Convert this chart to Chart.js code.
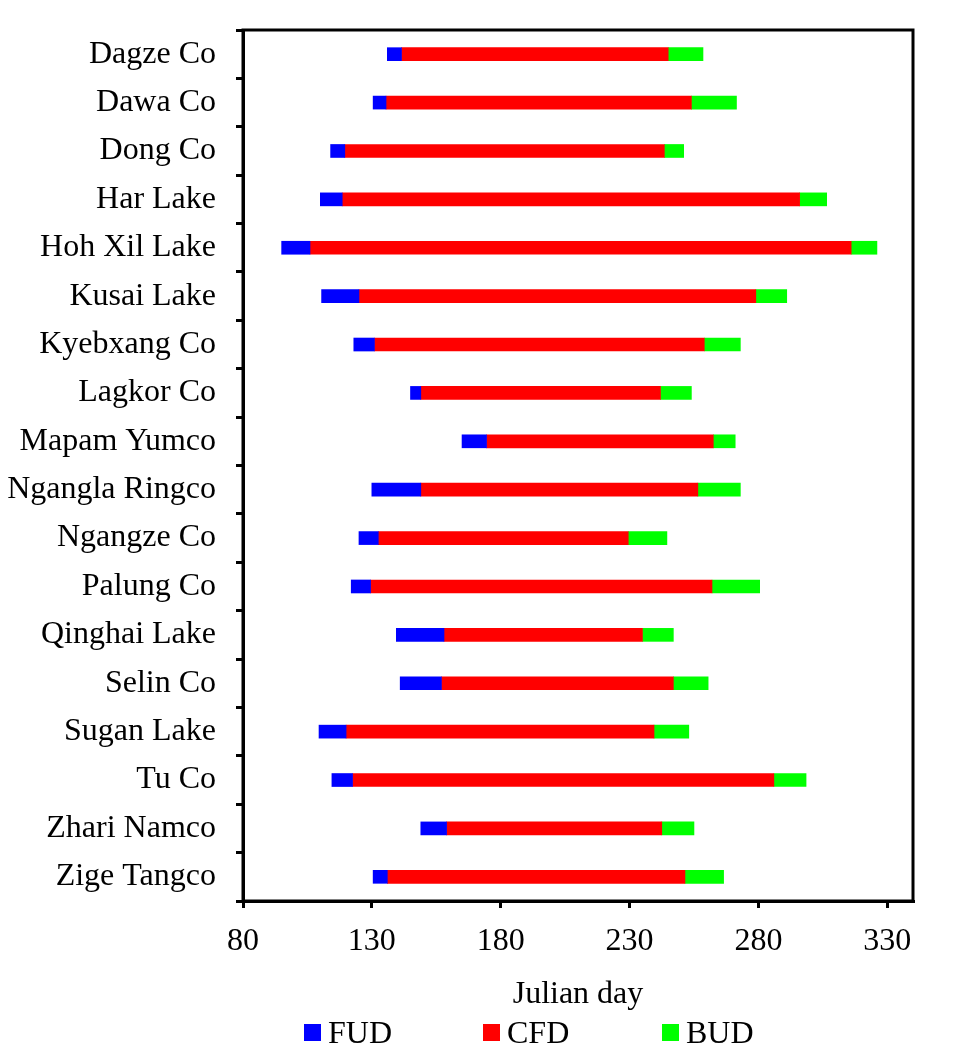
<!DOCTYPE html>
<html>
<head>
<meta charset="utf-8">
<title>Lake ice phenology</title>
<script src="https://cdn.jsdelivr.net/npm/chart.js@4/dist/chart.umd.min.js"></script>
<style>
  html, body { margin: 0; padding: 0; background: #fff; }
  #wrap { position: relative; width: 961px; height: 1052px; }
  #legend { position: absolute; left: 304px; top: 1014px; display: flex; font-family: "Liberation Serif", "Times New Roman", serif; font-size: 32px; color: #000; }
  #legend .item { width: 179px; display: flex; align-items: center; }
  #legend .box { width: 17px; height: 17px; margin-right: 7px; }
</style>
</head>
<body>
<div id="wrap">
  <canvas id="iceChart" width="961" height="1052"></canvas>
  <div id="legend"></div>
</div>
<script>
var lakes = ['Dagze Co', 'Dawa Co', 'Dong Co', 'Har Lake', 'Hoh Xil Lake', 'Kusai Lake', 'Kyebxang Co', 'Lagkor Co', 'Mapam Yumco',
  'Ngangla Ringco', 'Ngangze Co', 'Palung Co', 'Qinghai Lake', 'Selin Co', 'Sugan Lake', 'Tu Co', 'Zhari Namco', 'Zige Tangco'];

// julian days: freeze-up start, complete freeze start, break-up start, break-up end
var fudStart = [136, 130.5, 114, 110, 95, 110.5, 123, 145, 165, 130, 125, 122, 139.5, 141, 109.5, 114.5, 149, 130.5];
var cfdStart = [141.5, 135.5, 119.5, 118.5, 106, 125, 131, 149, 174.5, 149, 132.5, 129.5, 158, 157, 120, 122.5, 159, 136];
var budStart = [245, 254, 243.5, 296, 316, 279, 259, 242, 262.5, 256.5, 229.5, 262, 235, 247, 239.5, 286, 242.5, 251.5];
var budEnd = [258.5, 271.5, 251, 306.5, 326, 291, 273, 254, 271, 273, 244.5, 280.5, 247, 260.5, 253, 298.5, 255, 266.5];

var xTicks = [80, 130, 180, 230, 280, 330];
var seriesNames = ['FUD', 'CFD', 'BUD'];
var seriesColors = ['#0000ff', '#ff0000', '#00ff00'];

(function() {
  var serif = '"Liberation Serif", "Times New Roman", serif';

  function spans(a, b) {
    return a.map(function(v, i) { return [v, b[i]]; });
  }

  var ranges = [spans(fudStart, cfdStart), spans(cfdStart, budStart), spans(budStart, budEnd)];

  var frame = {
    id: 'frame',
    afterDraw: function(chart) {
      var a = chart.chartArea, ctx = chart.ctx;
      ctx.save();
      ctx.strokeStyle = '#000';
      ctx.lineWidth = 3;
      ctx.strokeRect(a.left, a.top, a.right - a.left, a.bottom - a.top);
      ctx.restore();
    }
  };

  new Chart(document.getElementById('iceChart').getContext('2d'), {
    type: 'bar',
    data: {
      labels: lakes,
      datasets: seriesNames.map(function(name, i) {
        return { label: name, data: ranges[i], backgroundColor: seriesColors[i], grouped: false, barThickness: 13, borderSkipped: false };
      })
    },
    options: {
      indexAxis: 'y',
      responsive: false,
      animation: false,
      layout: { padding: { top: 30, right: 48, bottom: 30, left: 0 } },
      plugins: { legend: { display: false }, tooltip: { enabled: false } },
      scales: {
        x: {
          type: 'linear',
          min: 80,
          max: 340,
          afterBuildTicks: function(s) { s.ticks = xTicks.map(function(v) { return { value: v }; }); },
          afterFit: function(s) { s.height = 121; },
          border: { display: true, color: '#000', width: 3 },
          grid: { drawOnChartArea: false, drawTicks: true, tickLength: 7, color: '#000', lineWidth: 3 },
          ticks: { color: '#000', padding: 14, font: { family: serif, size: 32 } },
          title: { display: true, text: 'Julian day', color: '#000', padding: { top: 0, bottom: 8 }, font: { family: serif, size: 32 } }
        },
        y: {
          afterFit: function(s) { s.width = 243; s.paddingTop = 0; s.paddingBottom = 0; },
          border: { display: true, color: '#000', width: 3 },
          grid: { drawOnChartArea: false, drawTicks: true, tickLength: 7, color: '#000', lineWidth: 3, offset: true },
          ticks: { color: '#000', padding: 20, autoSkip: false, font: { family: serif, size: 32 } }
        }
      }
    },
    plugins: [frame]
  });

  var legend = document.getElementById('legend');
  seriesNames.forEach(function(name, i) {
    legend.insertAdjacentHTML('beforeend',
      '<div class="item"><span class="box" style="background:' + seriesColors[i] + '"></span>' + name + '</div>');
  });
})();
</script>
</body>
</html>
